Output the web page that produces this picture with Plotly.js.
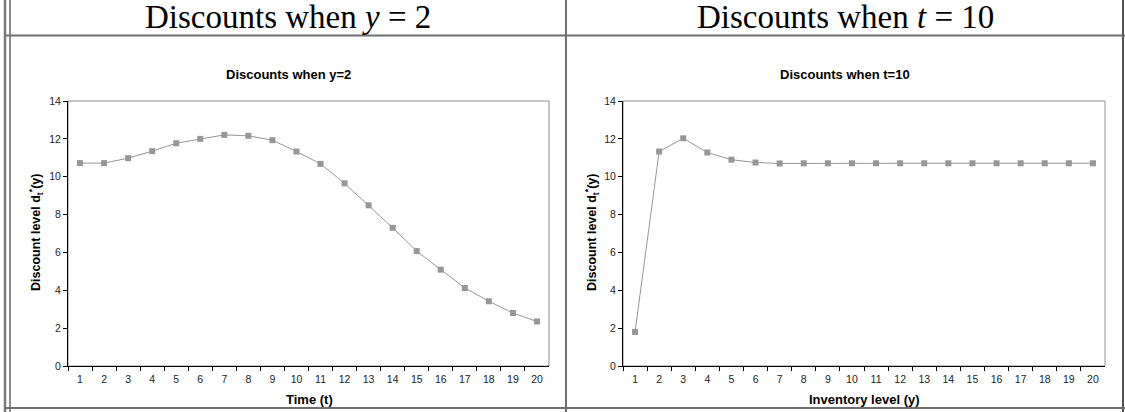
<!DOCTYPE html>
<html>
<head>
<meta charset="utf-8">
<script src="https://cdn.plot.ly/plotly-3.0.1.min.js"></script>
<style>
html,body{margin:0;padding:0;background:#fff;}
#chart{width:1125px;height:412px;}
</style>
</head>
<body>
<div id="chart"></div>
<script>
// Data
const timeCategories = ['1','2','3','4','5','6','7','8','9','10','11','12','13','14','15','16','17','18','19','20'];
const discountsY2 = [10.72,10.72,10.98,11.35,11.77,12.0,12.21,12.16,11.93,11.33,10.68,9.65,8.49,7.3,6.07,5.09,4.12,3.42,2.8,2.35];
const inventoryCategories = ['1','2','3','4','5','6','7','8','9','10','11','12','13','14','15','16','17','18','19','20'];
const discountsT10 = [1.8,11.33,12.03,11.28,10.9,10.75,10.7,10.71,10.71,10.71,10.71,10.71,10.71,10.71,10.71,10.71,10.71,10.71,10.71,10.71];
const yTickVals = [0,2,4,6,8,10,12,14];

const W = 1125, H = 412;
const px = v => v / W;
const py = v => 1 - v / H;

const markerStyle = {symbol:'square', size:6, color:'#979797'};
const lineStyle = {color:'#979797', width:1};

const traces = [
  {x: timeCategories, y: discountsY2, type:'scatter', mode:'lines+markers',
   xaxis:'x', yaxis:'y', marker: markerStyle, line: lineStyle, hoverinfo:'x+y'},
  {x: inventoryCategories, y: discountsT10, type:'scatter', mode:'lines+markers',
   xaxis:'x2', yaxis:'y2', marker: markerStyle, line: lineStyle, hoverinfo:'x+y'}
];

const SANS = 'Liberation Sans, Arial, sans-serif';
const tickFont = {family: SANS, size:10.5, color:'#222'};
function xAxis(domain, anchor){
  return {domain: domain, anchor: anchor, type:'category', range:[-0.5,19.5],
    tickson:'boundaries', ticks:'outside', ticklen:4, tickwidth:1, tickcolor:'#000',
    showline:true, linecolor:'#000', linewidth:1, showgrid:false, zeroline:false,
    ticklabelstandoff:3, tickfont: tickFont, fixedrange:true};
}
function yAxis(domain, anchor){
  return {domain: domain, anchor: anchor, range:[0,14], tickvals: yTickVals,
    ticks:'outside', ticklen:4, tickwidth:1, tickcolor:'#000',
    showline:true, linecolor:'#000', linewidth:1, showgrid:false, zeroline:false,
    tickfont: tickFont, fixedrange:true};
}

const yDom = [py(366), py(101)];
const layout = {
  width: W, height: H,
  margin:{l:0,r:0,t:0,b:0},
  paper_bgcolor:'#fff', plot_bgcolor:'#fff',
  showlegend:false,
  xaxis: xAxis([px(68), px(549)], 'y'),
  yaxis: yAxis(yDom, 'x'),
  xaxis2: xAxis([px(623), px(1105)], 'y2'),
  yaxis2: yAxis(yDom, 'x2'),
  shapes: [
    // plot frames (gray, top/right)
    {type:'rect', xref:'x domain', yref:'y domain', x0:0, x1:1, y0:0, y1:1, line:{color:'#8c8c8c', width:1}, layer:'below'},
    {type:'rect', xref:'x2 domain', yref:'y2 domain', x0:0, x1:1, y0:0, y1:1, line:{color:'#8c8c8c', width:1}, layer:'below'},
    // table borders
    {type:'line', xref:'paper', yref:'paper', x0:px(5), x1:px(5), y0:0, y1:1, line:{color:'#7a7a7a', width:2.5}},
    {type:'line', xref:'paper', yref:'paper', x0:px(10), x1:px(10), y0:0, y1:1, line:{color:'#1a1a1a', width:1}},
    {type:'line', xref:'paper', yref:'paper', x0:px(566), x1:px(566), y0:0, y1:1, line:{color:'#6e6e6e', width:2}},
    {type:'line', xref:'paper', yref:'paper', x0:px(1123), x1:px(1123), y0:0, y1:1, line:{color:'#1a1a1a', width:1.5}},
    {type:'line', xref:'paper', yref:'paper', x0:px(4), x1:1, y0:py(35.5), y1:py(35.5), line:{color:'#6e6e6e', width:2}},
    {type:'line', xref:'paper', yref:'paper', x0:px(4), x1:1, y0:py(408), y1:py(408), line:{color:'#6e6e6e', width:2}}
  ],
  annotations: [
    {text:'Discounts when <i>y</i> = 2', xref:'paper', yref:'paper', x:px(288), y:py(17), showarrow:false,
     xanchor:'center', yanchor:'middle', font:{family:'Liberation Serif, Times New Roman, serif', size:33, color:'#000'}},
    {text:'Discounts when <i>t</i> = 10', xref:'paper', yref:'paper', x:px(845), y:py(17), showarrow:false,
     xanchor:'center', yanchor:'middle', font:{family:'Liberation Serif, Times New Roman, serif', size:33, color:'#000'}},
    {text:'<b>Discounts when y=2</b>', xref:'paper', yref:'paper', x:px(288), y:py(74), showarrow:false,
     xanchor:'center', yanchor:'middle', font:{family: SANS, size:13, color:'#000'}},
    {text:'<b>Discounts when t=10</b>', xref:'paper', yref:'paper', x:px(845), y:py(74), showarrow:false,
     xanchor:'center', yanchor:'middle', font:{family: SANS, size:13, color:'#000'}},
    {text:'<b>Time (t)</b>', xref:'paper', yref:'paper', x:px(309), y:py(399), showarrow:false,
     xanchor:'center', yanchor:'middle', font:{family: SANS, size:13, color:'#000'}},
    {text:'<b>Inventory level (y)</b>', xref:'paper', yref:'paper', x:px(864), y:py(399), showarrow:false,
     xanchor:'center', yanchor:'middle', font:{family: SANS, size:13, color:'#000'}},
    {text:'<b>Discount level d<sub>t</sub><sup>*</sup>(y)</b>', xref:'paper', yref:'paper', x:px(36), y:py(233), showarrow:false,
     textangle:-90, xanchor:'center', yanchor:'middle', font:{family: SANS, size:12.5, color:'#000'}},
    {text:'<b>Discount level d<sub>t</sub><sup>*</sup>(y)</b>', xref:'paper', yref:'paper', x:px(592), y:py(233), showarrow:false,
     textangle:-90, xanchor:'center', yanchor:'middle', font:{family: SANS, size:12.5, color:'#000'}}
  ]
};

Plotly.newPlot('chart', traces, layout, {displayModeBar:false, staticPlot:true});
</script>
</body>
</html>
